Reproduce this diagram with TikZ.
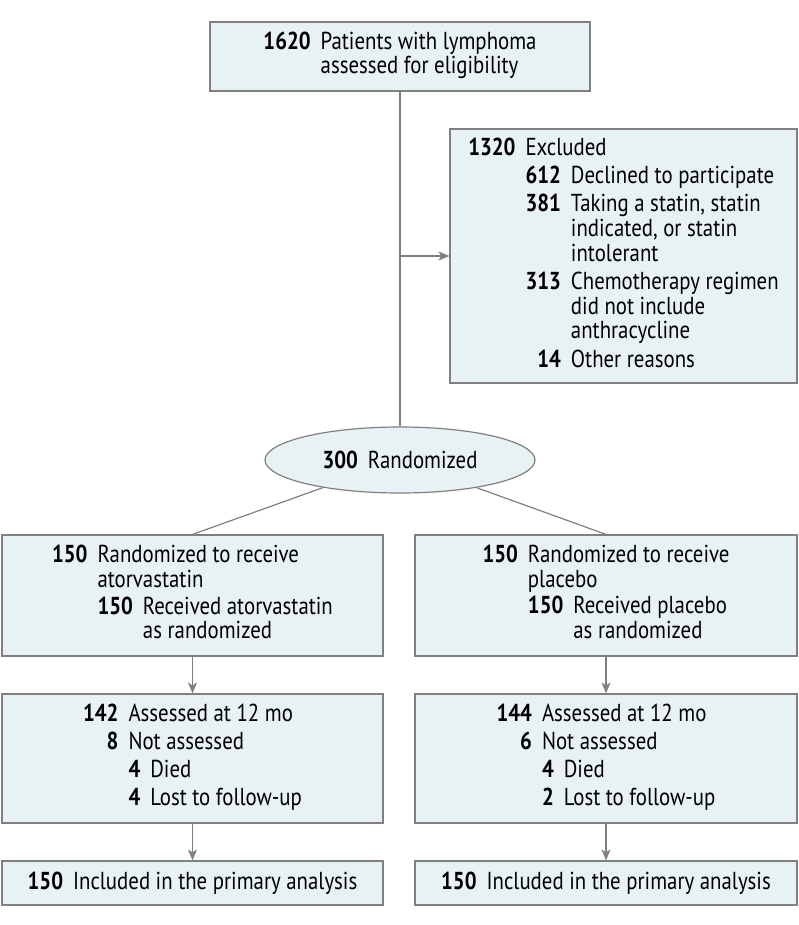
\documentclass[tikz,border=0pt]{standalone}
\usepackage{fontspec}
\setmainfont{PT Sans}[FakeStretch=0.85]
\usepackage{tikz}
\usetikzlibrary{arrows.meta}
\usetikzlibrary{shapes.geometric}
\usepackage{xcolor}
\definecolor{boxfill}{RGB}{232,241,244}
\definecolor{boxline}{RGB}{128,128,128}
\newcommand{\nb}[1]{\textbf{#1}}
\newcommand{\cntgap}{\hspace{10pt}}

\begin{document}
\begin{tikzpicture}[x=1pt,y=-1pt]
\tikzstyle{every node}=[font=\fontsize{24.5}{24.5}\selectfont,inner sep=0pt]
\tikzstyle{flowbox}=[draw=boxline,fill=boxfill,line width=1.2pt]
\tikzstyle{flowline}=[draw=boxline,line width=1.2pt]
\tikzstyle{flowarrow}=[flowline,-{Stealth[length=11pt,width=9pt,inset=3pt]}]
\useasboundingbox (0,0) rectangle (798,925);
\node[flowbox,minimum width=380pt,minimum height=69pt] (screen) at (400,56.5) {\begin{tabular}{@{}r@{\cntgap}l@{}}
\nb{1620} & Patients with lymphoma\\
 & assessed for eligibility
\end{tabular}};
\node[flowbox,minimum width=347pt,minimum height=254pt] (excl) at (623.5,256) {\begin{tabular}{@{}r@{\cntgap}l@{}}
\nb{1320} & Excluded\\[3.5pt]
 & \begin{tabular}[t]{@{}r@{\cntgap}l@{}}
 \nb{612} & Declined to participate\\[3.5pt]
 \nb{381} & Taking a statin, statin\\
  & indicated, or statin\\
  & intolerant\\[3.5pt]
 \nb{313} & Chemotherapy regimen\\
  & did not include\\
  & anthracycline\\[3.5pt]
 \nb{14} & Other reasons
 \end{tabular}
\end{tabular}};
\node[flowbox,ellipse,minimum width=270pt,minimum height=66pt] (rand) at (400,460) {\nb{300}\cntgap Randomized};
% atorvastatin arm
\node[flowbox,minimum width=381pt,minimum height=121pt] (armA) at (192.5,595.5) {\begin{tabular}{@{}r@{\cntgap}l@{}}
\nb{150} & Randomized to receive\\
 & atorvastatin\\[2pt]
 & \begin{tabular}[t]{@{}r@{\cntgap}l@{}}
 \nb{150} & Received atorvastatin\\
  & as randomized
 \end{tabular}
\end{tabular}};
\node[flowbox,minimum width=381pt,minimum height=129pt] (fuA) at (192.5,758.5) {\begin{tabular}{@{}r@{\cntgap}l@{}}
\nb{142} & Assessed at 12 mo\\[3.5pt]
\nb{8} & Not assessed\\[3.5pt]
 & \begin{tabular}[t]{@{}r@{\cntgap}l@{}}
 \nb{4} & Died\\[3.5pt]
 \nb{4} & Lost to follow-up
 \end{tabular}
\end{tabular}};
\node[flowbox,minimum width=381pt,minimum height=44pt] (anA) at (192.5,883) {\nb{150}\cntgap Included in the primary analysis};
% placebo arm
\node[flowbox,minimum width=382pt,minimum height=121pt] (armB) at (606,595.5) {\begin{tabular}{@{}r@{\cntgap}l@{}}
\nb{150} & Randomized to receive\\
 & placebo\\[2pt]
 & \begin{tabular}[t]{@{}r@{\cntgap}l@{}}
 \nb{150} & Received placebo\\
  & as randomized
 \end{tabular}
\end{tabular}};
\node[flowbox,minimum width=382pt,minimum height=129pt] (fuB) at (606,758.5) {\begin{tabular}{@{}r@{\cntgap}l@{}}
\nb{144} & Assessed at 12 mo\\[3.5pt]
\nb{6} & Not assessed\\[3.5pt]
 & \begin{tabular}[t]{@{}r@{\cntgap}l@{}}
 \nb{4} & Died\\[3.5pt]
 \nb{2} & Lost to follow-up
 \end{tabular}
\end{tabular}};
\node[flowbox,minimum width=382pt,minimum height=44pt] (anB) at (606,883) {\nb{150}\cntgap Included in the primary analysis};
\coordinate (split) at (rand.north |- excl.west);
\draw[flowline] (screen.south) -- (rand.north);
\draw[flowarrow] (split) -- (excl.west);
\draw[flowline] (rand) -- (armA.north);
\draw[flowline] (rand) -- (armB.north);
\draw[flowarrow] (armA.south) -- (fuA.north);
\draw[flowarrow] (fuA.south) -- (anA.north);
\draw[flowarrow] (armB.south) -- (fuB.north);
\draw[flowarrow] (fuB.south) -- (anB.north);
\end{tikzpicture}
\end{document}
